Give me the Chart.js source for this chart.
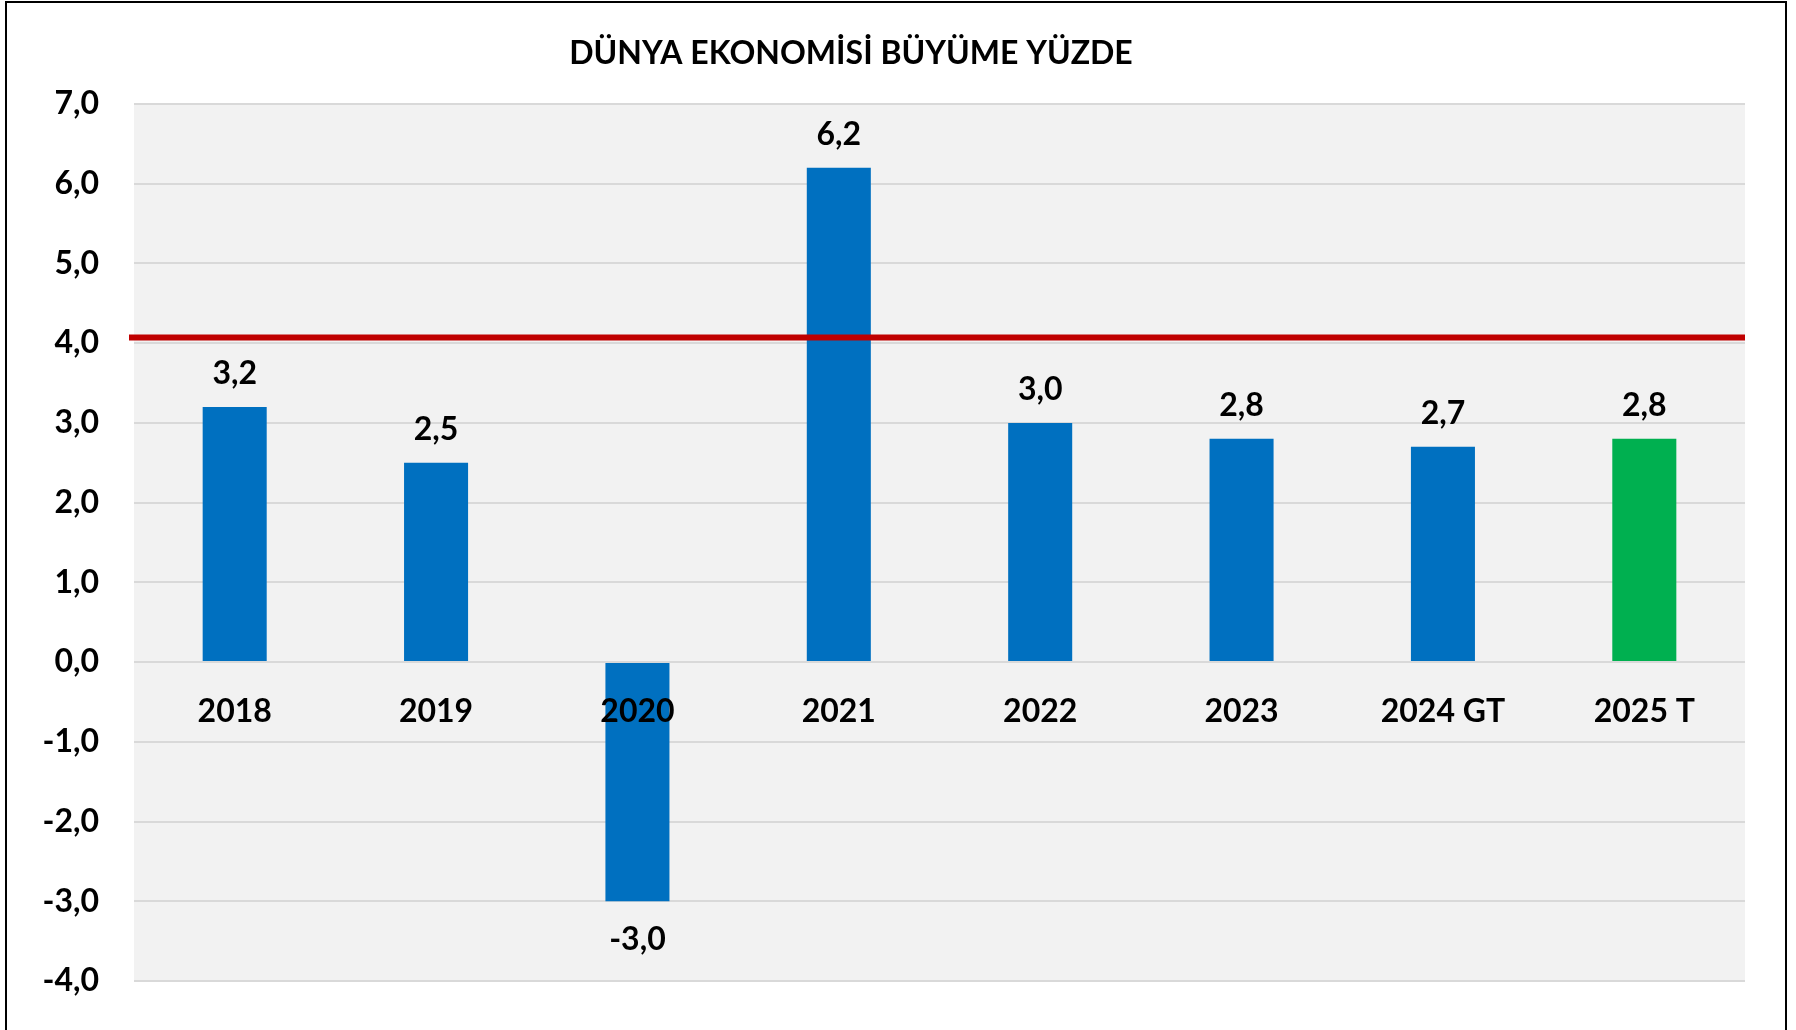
<!DOCTYPE html>
<html lang="tr">
<head>
    <meta charset="UTF-8">
    <title>Dünya Ekonomisi Büyüme Yüzde</title>
    <script src="https://cdn.jsdelivr.net/npm/chart.js"></script>
    <style>
        html, body {
            margin: 0;
            padding: 0;
            background: #fff;
        }
        body {
            width: 1796px;
            height: 1030px;
            position: relative;
            overflow: hidden;
        }
        /* dış çerçeve */
        .frame {
            position: absolute;
            left: 5px;
            top: 1px;
            width: 1782px;
            height: 1060px;
            border: 2px solid #000;
            box-sizing: border-box;
            pointer-events: none;
        }
        #chart {
            position: absolute;
            left: 0;
            top: 0;
        }
    </style>
</head>
<body>
<canvas id="chart" width="1796" height="1030"></canvas>
<div class="frame"></div>

<script>
    // Veriler
    const title = 'DÜNYA EKONOMİSİ BÜYÜME YÜZDE';
    const years = ['2018', '2019', '2020', '2021', '2022', '2023', '2024 GT', '2025 T'];
    const growth = [3.2, 2.5, -3.0, 6.2, 3.0, 2.8, 2.7, 2.8];
    const barColors = ['#0070C0', '#0070C0', '#0070C0', '#0070C0', '#0070C0', '#0070C0', '#0070C0', '#00B050'];
    const refLine = [4.07];   // kırmızı çizgi
    const yMin = -4, yMax = 7, yStep = 1;

    const FONT = 'Lato';
    const fmt = v => Number(v).toFixed(1).replace('.', ',');

    Chart.defaults.font.family = FONT;

    // Grafik alanı arka planı
    const plotBg = {
        id: 'plotBg',
        beforeDraw(chart) {
            const {ctx, chartArea: a} = chart;
            ctx.save();
            ctx.fillStyle = '#F2F2F2';
            ctx.fillRect(a.left, a.top, a.right - a.left, a.bottom - a.top);
            ctx.restore();
        }
    };

    // Kırmızı çizgi ve değer etiketleri
    const overlays = {
        id: 'overlays',
        afterDatasetsDraw(chart) {
            const {ctx, chartArea: a} = chart;
            const y = chart.scales.y.getPixelForValue(refLine[0]);
            ctx.save();
            ctx.strokeStyle = '#C00000';
            ctx.lineWidth = 6;
            ctx.beginPath();
            ctx.moveTo(a.left - 5, y);
            ctx.lineTo(a.right, y);
            ctx.stroke();

            ctx.fillStyle = '#000';
            ctx.font = 'bold 32px ' + FONT;
            ctx.textAlign = 'center';
            ctx.textBaseline = 'middle';
            const meta = chart.getDatasetMeta(0);
            meta.data.forEach((bar, i) => {
                const v = growth[i];
                const ty = v >= 0 ? bar.y - 33 : bar.y + 38;
                ctx.fillText(fmt(v), bar.x, ty);
            });
            ctx.restore();
        },
        afterDraw(chart) {
            const ctx = chart.ctx;
            ctx.save();
            ctx.fillStyle = '#000';
            ctx.font = 'bold 32px ' + FONT;
            ctx.textAlign = 'center';
            ctx.textBaseline = 'alphabetic';
            ctx.fillText(title, 851, 64);
            ctx.restore();
        }
    };

    new Chart(document.getElementById('chart'), {
        type: 'bar',
        data: {
            labels: years,
            datasets: [{
                data: growth,
                backgroundColor: barColors,
                borderWidth: 0,
                categoryPercentage: 1,
                barPercentage: 0.318
            }]
        },
        options: {
            responsive: false,
            animation: false,
            layout: {
                padding: {top: 104, right: 51, bottom: 49, left: 0}
            },
            plugins: {
                legend: {display: false},
                tooltip: {enabled: false},
                title: {display: false}
            },
            scales: {
                x: {
                    position: {y: 0},
                    grid: {display: false},
                    border: {display: false},
                    ticks: {
                        z: 1,
                        padding: 22,
                        color: '#000',
                        maxRotation: 0,
                        autoSkip: false,
                        font: {size: 32, weight: 'bold'}
                    }
                },
                y: {
                    min: yMin,
                    max: yMax,
                    grid: {color: '#D9D9D9', lineWidth: 2, drawTicks: false},
                    border: {display: false},
                    ticks: {
                        stepSize: yStep,
                        padding: 35,
                        color: '#000',
                        font: {size: 32, weight: 'bold'},
                        callback: v => fmt(v)
                    },
                    afterFit(scale) {
                        // eksen genişliği sabit, dikey boşluğu layout belirlesin
                        scale.width = 134;
                        scale.paddingTop = 0;
                        scale.paddingBottom = 0;
                    }
                }
            }
        },
        plugins: [plotBg, overlays]
    });
</script>
</body>
</html>
